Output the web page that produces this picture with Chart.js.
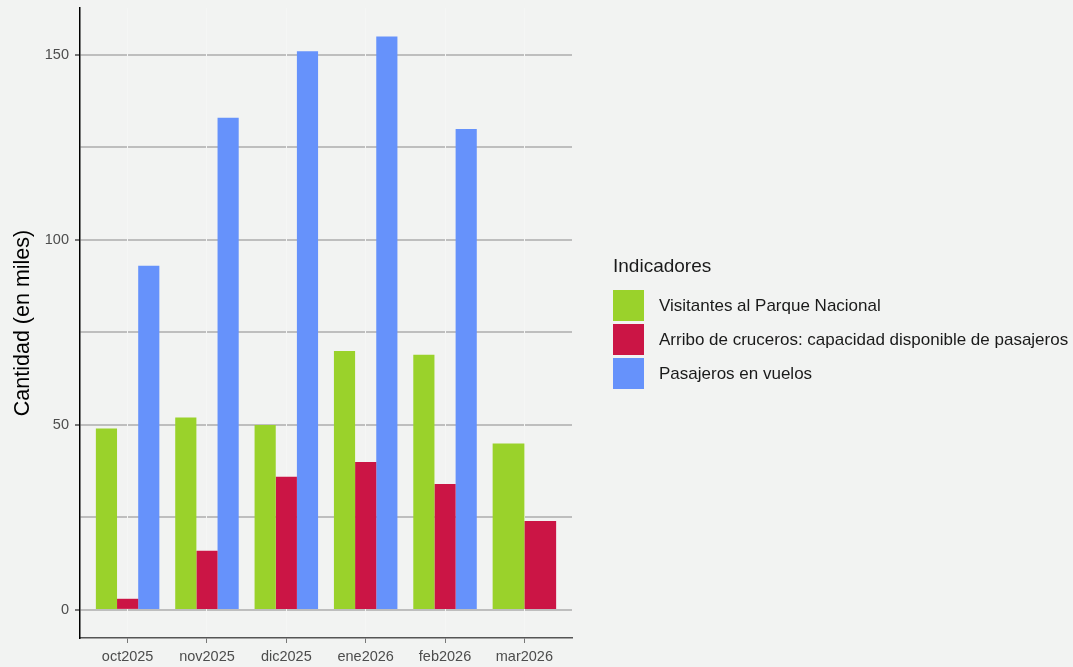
<!DOCTYPE html>
<html>
<head>
<meta charset="utf-8">
<script src="https://cdn.jsdelivr.net/npm/chart.js@4.4.0/dist/chart.umd.min.js"></script>
<style>
  body { margin: 0; background: #f2f3f2; font-family: "Liberation Sans", Arial, sans-serif; }
  #wrap { position: relative; width: 1073px; height: 667px; }
  #legend { position: absolute; left: 0; top: 0; color: #1a1a1a; }
  .ltitle { position: absolute; left: 613px; top: 253px; font-size: 19px; line-height: 26px; white-space: nowrap; }
  .litem { position: absolute; left: 613px; height: 31px; display: flex; align-items: center; white-space: nowrap; font-size: 17px; }
  .lbox { width: 31px; height: 31px; margin-right: 15px; }
</style>
</head>
<body>
<div id="wrap">
  <canvas id="myChart" width="1073" height="667"></canvas>
  <div id="legend"></div>
</div>
<script>
//Data Info
const months = ["oct2025", "nov2025", "dic2025", "ene2026", "feb2026", "mar2026"];
const visitantes = [49, 52, 50, 70, 69, 45];
const cruceros = [3, 16, 36, 40, 34, 24];
const vuelos = [93, 133, 151, 155, 130, null];
const yTicks = [0, 25, 50, 75, 100, 125, 150];

const seriesNames = ["Visitantes al Parque Nacional", "Arribo de cruceros: capacidad disponible de pasajeros", "Pasajeros en vuelos"];
const seriesColors = ["#9ad22b", "#cb1545", "#6692fb"];

const tickFont = { family: "Liberation Sans", size: 14.5 };

function toPoints(values) {
  return values.map((v, i) => ({ x: i, y: v }));
}

const datasets = [visitantes, cruceros, vuelos].map((vals, i) => ({
  label: seriesNames[i],
  data: toPoints(vals),
  backgroundColor: seriesColors[i],
  borderWidth: 0,
  categoryPercentage: 0.8,
  barPercentage: 1.0,
  skipNull: true
}));

var myChart = new Chart("myChart", {
  type: "bar",
  data: { datasets: datasets },
  options: {
    responsive: false,
    animation: false,
    layout: { padding: { left: 0, top: 8, right: 501, bottom: 0 } },
    plugins: {
      legend: { display: false },
      tooltip: { enabled: false }
    },
    scales: {
      x: {
        type: "linear",
        offset: false,
        min: -0.6,
        max: 5.6,
        afterBuildTicks: s => { s.ticks = months.map((m, i) => ({ value: i })); },
        afterFit: s => { s.height = 29; s.paddingLeft = 0; s.paddingRight = 0; },
        ticks: {
          callback: v => months[v],
          color: "#4d4d4d",
          font: tickFont,
          padding: 5,
          maxRotation: 0,
          autoSkip: false
        },
        grid: { offset: false, color: "#f5f6f5", lineWidth: 1, tickLength: 5, tickColor: "#777", z: -0.5 },
        border: { color: "#555", width: 1.5 }
      },
      y: {
        min: -7.6,
        max: 162.7,
        afterBuildTicks: s => { s.ticks = yTicks.map(v => ({ value: v })); },
        afterFit: s => { s.width = 80; s.paddingTop = 0; s.paddingBottom = 0; },
        ticks: {
          callback: v => (v % 50 === 0 ? String(v) : ""),
          color: "#4d4d4d",
          font: tickFont,
          padding: 6
        },
        grid: {
          color: "#bebebe",
          lineWidth: 2,
          tickLength: 5,
          tickColor: c => (c.tick && c.tick.value % 50 === 0 ? "#777" : "rgba(0,0,0,0)")
        },
        border: { color: "#000", width: 1.5 },
        title: {
          display: true,
          text: "Cantidad (en miles)",
          color: "#000",
          font: { family: "Liberation Sans", size: 21.5 },
          padding: { top: 10, bottom: 0 }
        }
      }
    }
  }
});

//Legend
const legend = document.getElementById("legend");
let html = '<div class="ltitle">Indicadores</div>';
datasets.forEach((d, i) => {
  html += '<div class="litem" style="top:' + (290 + i * 34) + 'px"><div class="lbox" style="background:' +
    d.backgroundColor + '"></div>' + d.label + '</div>';
});
legend.innerHTML = html;
</script>
</body>
</html>
